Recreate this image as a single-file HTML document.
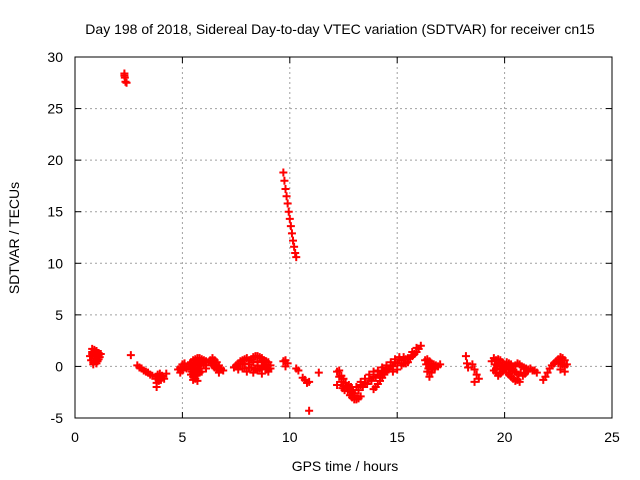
<!DOCTYPE html>
<html><head><meta charset="utf-8"><style>
body{margin:0;background:#fff;}
svg{display:block;font-family:"Liberation Sans",sans-serif;}
</style></head><body>
<svg id="chart" width="640" height="480">
<rect width="640" height="480" fill="#fff"/>
<g id="grid"></g><g id="axes"></g><g id="points"></g>
<text x="340" y="34" text-anchor="middle" font-size="14">Day 198 of 2018, Sidereal Day-to-day VTEC variation (SDTVAR) for receiver cn15</text>
<text x="345" y="471" text-anchor="middle" font-size="14">GPS time / hours</text>
<text transform="translate(19,238) rotate(-90)" text-anchor="middle" font-size="14">SDTVAR / TECUs</text>
</svg>
<script>
const xTicks=[0,5,10,15,20,25];
const yTicks=[-5,0,5,10,15,20,25,30];
const times=[
0.7,0.8,0.9,1.0,1.1,1.2,0.75,0.85,0.95,1.05,1.15,0.8,0.9,1.0,1.1,0.85,1.0,
0.8,0.9,1.0,1.1,0.95,1.05,
2.6,2.3,2.32,2.35,2.4,2.3,
2.9,3.0,3.1,3.2,3.3,3.4,3.5,3.6,
3.75,3.85,3.95,4.05,4.15,4.25,3.8,3.9,4.0,3.8,
3.8,3.9,4.0,4.1,
4.8,4.9,5.0,5.1,5.2,4.9,5.0,5.1,
5.3,5.4,5.5,5.6,5.7,5.8,5.9,6.0,6.1,6.2,5.4,5.5,5.6,5.7,5.8,5.9,6.0,6.1,5.4,5.5,5.6,5.7,5.8,5.9,5.5,5.6,5.7,
5.35,5.45,5.55,5.65,5.75,5.85,5.95,5.45,5.55,5.65,5.75,5.85,5.5,5.6,
6.3,6.4,6.5,6.6,6.7,6.8,6.9,6.4,6.5,6.6,6.7,
6.35,6.45,6.55,6.65,6.75,
7.4,7.5,7.6,7.7,7.8,7.9,8.0,8.1,8.2,8.3,8.4,8.5,8.6,8.7,8.8,8.9,9.0,9.1,
7.6,7.8,8.0,8.2,8.4,8.6,8.8,9.0,8.3,8.5,8.7,8.9,
7.5,7.7,7.9,8.1,8.3,8.5,8.7,8.9,9.1,7.9,8.1,8.5,8.7,8.9,9.0,
9.7,9.8,9.9,9.8,
9.7,9.75,9.8,9.85,9.9,9.95,10.0,10.05,10.1,10.15,10.2,10.25,10.3,
10.3,10.4,10.6,10.7,10.8,10.9,10.9,11.35,
12.2,12.3,12.4,12.5,12.6,12.3,12.4,12.5,12.2,
12.45,12.55,12.65,12.75,12.85,12.95,
12.7,12.8,12.9,13.0,13.1,13.2,13.3,12.8,12.9,13.0,
13.0,13.2,13.4,13.6,13.8,14.0,14.2,14.4,14.6,14.8,15.0,15.2,15.4,15.6,15.8,16.0,16.1,
13.3,13.5,13.7,13.9,14.1,14.3,14.5,14.7,14.9,15.1,15.3,15.5,15.7,15.9,
13.1,13.3,13.5,13.7,13.9,14.1,14.3,14.5,14.7,14.9,15.1,15.3,15.5,15.7,15.9,14.8,15.0,15.2,15.4,
13.9,14.0,14.1,14.2,14.3,14.4,14.5,14.6,
16.3,16.4,16.5,16.6,16.7,16.8,16.9,17.0,16.4,16.5,
16.35,16.45,16.55,16.65,16.75,16.45,16.6,
18.2,18.25,18.3,18.5,18.6,18.7,18.8,18.6,
19.4,19.5,19.6,19.7,19.8,19.9,20.0,20.1,20.2,20.3,20.4,20.5,20.6,20.7,20.8,20.9,21.0,21.1,21.2,21.3,21.4,21.5,
19.5,19.6,19.7,19.8,19.9,20.0,20.1,20.2,20.3,20.4,20.5,20.6,20.7,
19.55,19.65,19.75,19.85,19.95,20.05,20.15,20.25,20.35,20.45,20.55,20.65,20.75,20.85,20.95,21.05,19.6,19.8,20.0,20.2,
21.8,21.9,22.0,22.1,22.2,22.3,
22.4,22.5,22.6,22.7,22.8,22.9,22.6,22.8,
22.5,22.6,22.7,22.8];
const values=[
1.0,1.4,1.6,1.5,1.3,1.2,0.6,0.4,0.8,0.5,0.9,1.7,1.1,1.0,0.7,0.2,0.3,
1.2,1.3,1.2,1.1,0.6,0.6,
1.1,28.4,28.0,27.6,27.5,28.2,
0.1,-0.1,-0.2,-0.4,-0.5,-0.6,-0.8,-0.9,
-1.0,-0.8,-0.7,-0.9,-1.2,-0.7,-1.6,-1.4,-1.0,-2.0,
-1.2,-1.1,-1.3,-1.0,
-0.3,-0.1,0.2,0.3,-0.2,-0.6,-0.4,0.0,
0.0,0.4,0.6,0.7,0.8,0.8,0.7,0.6,0.5,0.4,-0.3,-0.2,-0.1,0.1,0.2,0.3,0.1,-0.2,-0.8,-0.7,-0.6,-0.8,-0.6,-0.5,-1.3,-1.2,-1.4,
0.2,0.1,0.3,0.4,0.5,0.5,0.4,-0.5,-0.4,-0.4,-0.3,-0.2,-1.0,-0.9,
0.6,0.8,0.6,0.4,0.1,-0.2,-0.4,0.1,-0.1,-0.3,-0.6,
0.3,0.4,0.2,-0.1,-0.3,
-0.1,0.1,0.3,0.5,0.6,0.7,0.8,0.6,0.7,0.9,1.0,1.0,0.9,0.8,0.6,0.5,0.4,0.1,
-0.3,-0.2,-0.5,-0.1,-0.3,-0.2,0.0,-0.5,-0.6,-0.4,-0.7,-0.3,
0.0,0.2,0.3,0.2,0.4,0.5,0.4,0.2,-0.2,-0.2,-0.1,0.1,0.0,-0.1,-0.3,
0.5,0.6,0.3,0.0,
18.8,18.0,17.2,16.5,15.8,15.0,14.3,13.6,12.9,12.2,11.6,11.0,10.6,
-0.2,-0.4,-1.1,-1.3,-1.6,-1.5,-4.3,-0.6,
-0.5,-1.0,-1.5,-1.9,-1.6,-0.4,-0.9,-1.2,-1.8,
-2.1,-2.3,-2.0,-1.8,-2.0,-2.3,
-2.4,-2.8,-3.0,-3.2,-3.2,-3.1,-2.9,-2.2,-2.5,-2.8,
-2.6,-2.3,-2.0,-1.7,-1.4,-1.1,-0.9,-0.6,-0.3,0.0,0.3,0.6,0.7,0.8,1.2,1.7,2.0,
-1.8,-1.6,-1.2,-1.0,-0.8,-0.5,-0.3,0.1,0.4,0.7,0.9,0.8,1.0,1.4,
-2.0,-1.5,-1.2,-0.8,-0.5,-0.4,-0.1,0.1,0.4,0.7,0.9,0.3,0.4,1.4,1.8,-0.5,-0.3,0.1,0.3,
-2.2,-2.0,-1.7,-1.4,-1.1,-0.8,-0.4,-0.2,
0.6,0.7,0.5,0.3,0.2,0.1,0.0,0.2,-0.5,-1.0,
0.2,0.3,0.0,-0.3,-0.2,-0.2,-0.6,
1.0,0.3,-0.1,0.2,-0.3,-0.8,-1.2,-1.5,
0.5,0.8,0.6,0.7,0.6,0.4,0.2,0.4,0.3,0.2,0.0,0.1,0.3,0.2,0.0,-0.1,-0.2,-0.3,-0.2,-0.4,-0.4,-0.6,
-0.4,-0.6,-0.9,-0.7,-0.5,-0.3,-0.6,-0.8,-1.0,-1.2,-1.4,-1.3,-1.5,
0.2,0.1,0.3,0.0,-0.1,-0.1,0.0,-0.3,-0.4,-0.5,-0.6,-0.8,-0.6,-0.9,-0.7,-0.5,-0.2,-0.3,-0.1,-0.2,
-1.3,-1.0,-0.6,-0.2,0.1,0.3,
0.5,0.7,0.9,0.8,0.6,0.2,-0.3,-0.5,
0.3,0.4,0.2,0.0];

const L=75,R=612,T=57,B=418,xMin=0,xMax=25,yMin=-5,yMax=30;
const sx=v=>L+(v-xMin)/(xMax-xMin)*(R-L);
const sy=v=>B-(v-yMin)/(yMax-yMin)*(B-T);
const NS='http://www.w3.org/2000/svg';
function mk(tag,attrs,parent){const e=document.createElementNS(NS,tag);for(const k in attrs)e.setAttribute(k,attrs[k]);parent.appendChild(e);return e;}
const grid=document.getElementById('grid'),axes=document.getElementById('axes'),pts=document.getElementById('points');
xTicks.forEach(t=>{
  const x=sx(t);
  if(t>xMin&&t<xMax){const g=mk('line',{x1:x,x2:x,y1:T,y2:B,stroke:'#a0a0a0','stroke-dasharray':'2,3'},grid);
  
  }
  mk('line',{x1:x,x2:x,y1:B,y2:B-6,stroke:'#000'},axes);
  mk('line',{x1:x,x2:x,y1:T,y2:T+6,stroke:'#000'},axes);
  const lb=mk('text',{x:x,y:B+24,'text-anchor':'middle','font-size':'14'},axes);lb.textContent=t;
  
  
});
yTicks.forEach(t=>{
  const y=sy(t);
  if(t>yMin&&t<yMax){const g=mk('line',{x1:L,x2:R,y1:y,y2:y,stroke:'#a0a0a0','stroke-dasharray':'2,3'},grid);
  
  }
  mk('line',{x1:L,x2:L+6,y1:y,y2:y,stroke:'#000'},axes);
  mk('line',{x1:R,x2:R-6,y1:y,y2:y,stroke:'#000'},axes);
  const lb=mk('text',{x:L-12,y:y+5,'text-anchor':'end','font-size':'14'},axes);lb.textContent=t;
  
  
});
const fr=mk('rect',{x:L,y:T,width:R-L,height:B-T,fill:'none',stroke:'#000'},axes);


times.forEach((t,i)=>{
  const x=sx(t),y=sy(values[i]);
  const p=mk('path',{d:`M${x-4},${y}H${x+4}M${x},${y-4}V${y+4}`,stroke:'#f00','stroke-width':'2',fill:'none'},pts);
  
  
});
</script>
</body></html>
